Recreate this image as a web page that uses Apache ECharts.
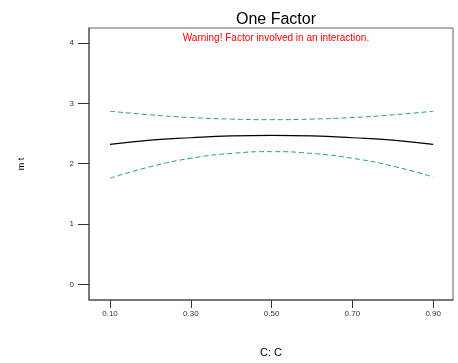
<!DOCTYPE html>
<html>
<head>
<meta charset="utf-8">
<script src="https://cdn.jsdelivr.net/npm/echarts@6/dist/echarts.min.js"></script>
<style>
  html, body { margin: 0; padding: 0; background: #fff; }
  #chart { width: 458px; height: 363px; }
</style>
</head>
<body>
<div id="chart"></div>
<script>
// factor levels
const xValues = [0.1, 0.2, 0.3, 0.4, 0.5, 0.6, 0.7, 0.8, 0.9];
// predicted response and its confidence band
const predicted = [2.32, 2.39, 2.43, 2.46, 2.47, 2.46, 2.43, 2.39, 2.32];
const upperBand = [2.87, 2.81, 2.765, 2.74, 2.73, 2.74, 2.765, 2.81, 2.87];
const lowerBand = [1.76, 1.95, 2.09, 2.17, 2.20, 2.17, 2.09, 1.96, 1.78];
// tick labels
const xTicks = [0.1, 0.3, 0.5, 0.7, 0.9];
const yTicks = [0, 1, 2, 3, 4];

const toPairs = (ys) => xValues.map((x, i) => [x, ys[i]]);

const chart = echarts.init(document.getElementById("chart"));
const teal = "#1f9c9c";
const font = "Liberation Sans, Arial, sans-serif";

chart.setOption({
  animation: false,
  title: [
    {
      text: "One Factor",
      left: 271, top: 7, textAlign: "center",
      textStyle: { fontFamily: font, fontSize: 16, fontWeight: "normal", color: "#000" },
    },
    {
      text: "Warning! Factor involved in an interaction.",
      left: 271, top: 28, textAlign: "center",
      textStyle: { fontFamily: font, fontSize: 10, fontWeight: "normal", color: "#ff0000" },
    },
  ],
  grid: {
    left: 89, right: 5, top: 28, bottom: 61,
    show: true, borderColor: "#666", borderWidth: 1,
  },
  xAxis: {
    type: "value",
    min: 0.048, max: 0.949,
    name: "C: C",
    nameLocation: "middle",
    nameGap: 47,
    nameTextStyle: { fontFamily: font, fontSize: 11, color: "#000" },
    axisLine: { show: true, onZero: false, lineStyle: { color: "#666", width: 1.5 } },
    axisTick: { show: true, length: 8, customValues: xTicks, lineStyle: { color: "#333" } },
    axisLabel: {
      customValues: xTicks, margin: 10,
      fontFamily: font, fontSize: 8, color: "#333",
      formatter: (v) => v.toFixed(2),
    },
    splitLine: { show: false },
  },
  yAxis: {
    type: "value",
    min: -0.26, max: 4.25,
    name: "m t",
    nameLocation: "middle",
    nameRotate: 90,
    nameGap: 63,
    nameTextStyle: { fontFamily: font, fontSize: 9, color: "#000" },
    axisLine: { show: true, onZero: false, lineStyle: { color: "#666", width: 1.5 } },
    axisTick: { show: true, length: 11, customValues: yTicks, lineStyle: { color: "#333" } },
    axisLabel: {
      customValues: yTicks, margin: 15,
      fontFamily: font, fontSize: 8, color: "#333",
    },
    splitLine: { show: false },
  },
  series: [
    {
      type: "line", data: toPairs(upperBand), smooth: true, symbol: "none",
      lineStyle: { color: teal, width: 1, type: [5, 3] },
    },
    {
      type: "line", data: toPairs(predicted), smooth: true, symbol: "none",
      lineStyle: { color: "#000", width: 1.2 },
    },
    {
      type: "line", data: toPairs(lowerBand), smooth: true, symbol: "none",
      lineStyle: { color: teal, width: 1, type: [5, 3] },
    },
  ],
});
</script>
</body>
</html>
